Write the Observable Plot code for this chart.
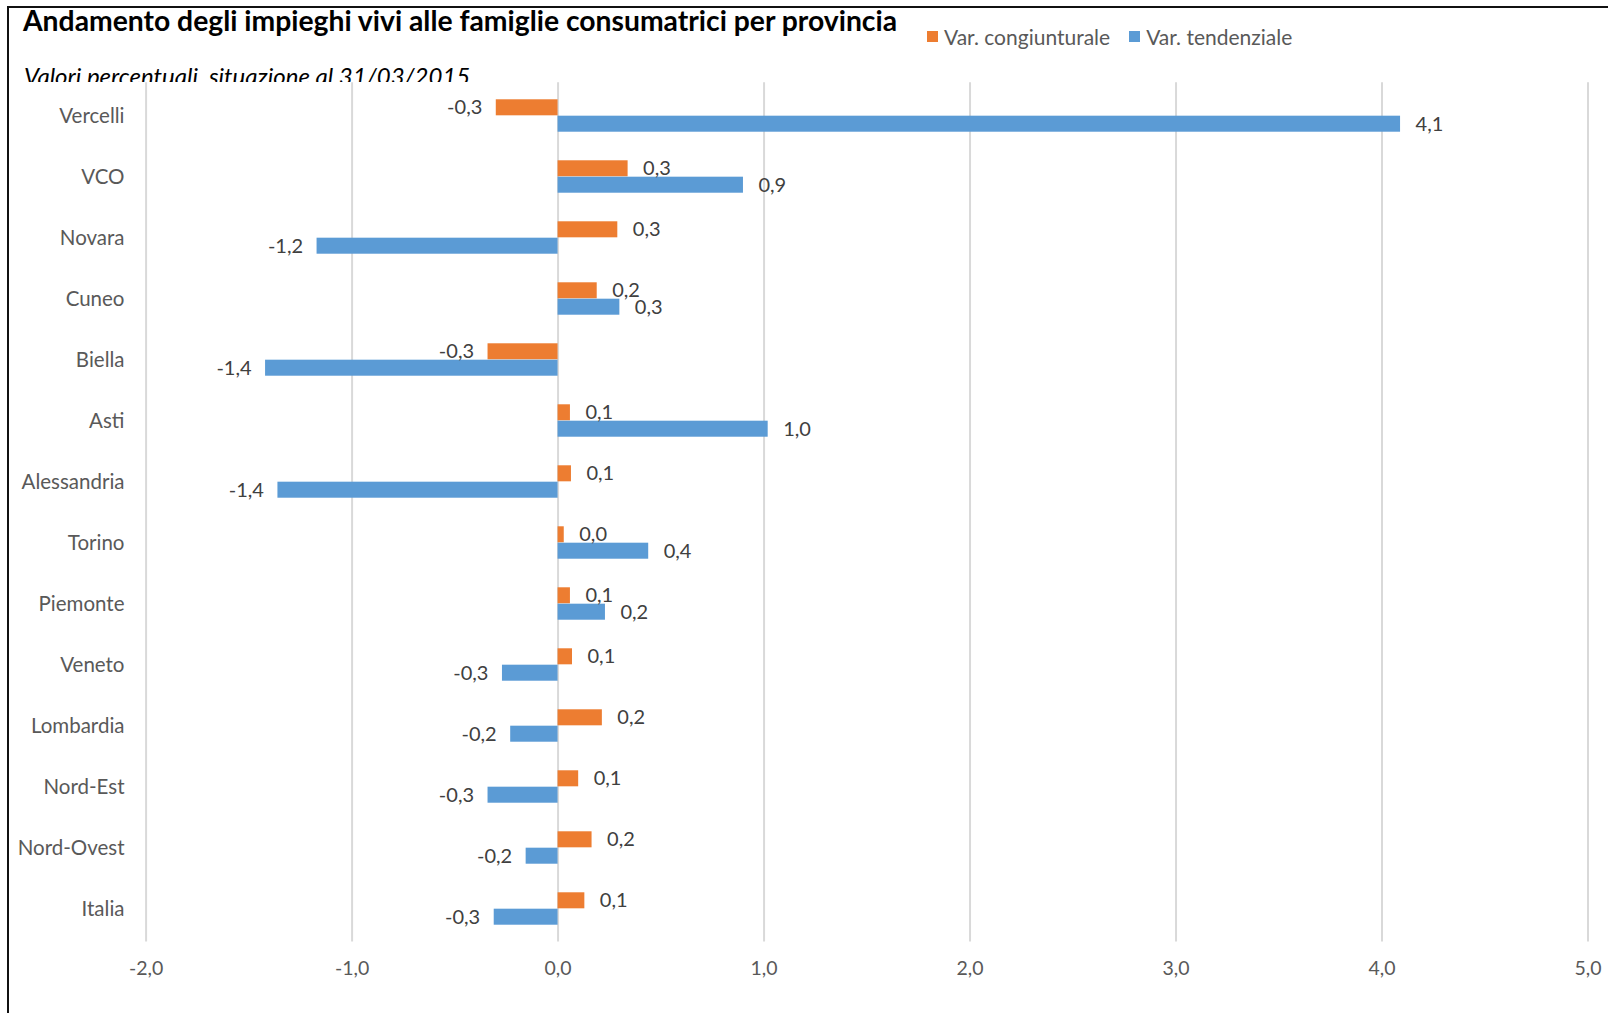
<!DOCTYPE html>
<html><head><meta charset="utf-8">
<script src="https://cdn.jsdelivr.net/npm/d3@7"></script>
<script src="https://cdn.jsdelivr.net/npm/@observablehq/plot@0.6"></script>
<style>
body{margin:0;background:#fff;font-family:Lato,sans-serif;}
#root{position:relative;width:1608px;height:1013px;overflow:hidden;background:#fff;}
#chart{position:absolute;left:0;top:60px;z-index:0;}
#frame{position:absolute;left:7px;top:6px;width:1700px;height:1100px;border-left:2.5px solid #111;border-top:2.5px solid #111;z-index:2;pointer-events:none;}
#title{position:absolute;left:23px;top:3px;font-weight:700;font-size:28.3px;color:#000;white-space:nowrap;z-index:2;}
#subtitle{position:absolute;left:24px;top:56px;height:26px;overflow:hidden;font-style:italic;font-size:24px;line-height:40px;color:#000;white-space:nowrap;z-index:1;}
#legend{position:absolute;left:927px;top:24px;display:flex;align-items:center;font-size:21px;color:#595959;z-index:2;}
#legend .item{display:flex;align-items:center;margin-right:19px;}
#legend .sw{width:11px;height:11px;margin-right:6px;}
</style></head>
<body>
<div id="root">
  <div id="chart"></div>
  <div id="frame"></div>
  <div id="title">Andamento degli impieghi vivi alle famiglie consumatrici per provincia</div>
  <div id="subtitle">Valori percentuali, situazione al 31/03/2015</div>
  <div id="legend"></div>
</div>
<script>
const categories = ["Vercelli","VCO","Novara","Cuneo","Biella","Asti","Alessandria","Torino","Piemonte","Veneto","Lombardia","Nord-Est","Nord-Ovest","Italia"];
const congiunturale = [-0.30, 0.34, 0.29, 0.19, -0.34, 0.06, 0.065, 0.03, 0.06, 0.07, 0.215, 0.10, 0.165, 0.13];
const tendenziale = [4.09, 0.90, -1.17, 0.30, -1.42, 1.02, -1.36, 0.44, 0.23, -0.27, -0.23, -0.34, -0.155, -0.31];
const series = ["Var. congiunturale", "Var. tendenziale"];
const colors = ["#ED7D31", "#5B9BD5"];
const xTicks = [-2, -1, 0, 1, 2, 3, 4, 5];

const fmt = v => v.toFixed(1).replace(".", ",");
const rows = [];
categories.forEach((c, i) => {
  rows.push({category: c, series: series[0], value: congiunturale[i]});
  rows.push({category: c, series: series[1], value: tendenziale[i]});
});
const S0 = rows.filter(d => d.series === series[0]);
const S1 = rows.filter(d => d.series === series[1]);

// legend
const lg = document.getElementById("legend");
series.forEach((s, i) => {
  const it = document.createElement("div"); it.className = "item";
  const sw = document.createElement("div"); sw.className = "sw"; sw.style.background = colors[i];
  const tx = document.createElement("span"); tx.textContent = s;
  it.appendChild(sw); it.appendChild(tx); lg.appendChild(it);
});

const H = 953;
const bandHalf = (941.6 - 82.3) / categories.length / 2;
const barH = 16.4;

function labels(data, dy) {
  return [
    Plot.text(data.filter(d => d.value >= 0), {x: "value", y: "category", text: d => fmt(d.value), dy, dx: 15, textAnchor: "start", fill: "#404040", fontSize: 20}),
    Plot.text(data.filter(d => d.value < 0), {x: "value", y: "category", text: d => fmt(d.value), dy, dx: -14, textAnchor: "end", fill: "#404040", fontSize: 20})
  ];
}

const chart = Plot.plot({
  width: 1608,
  height: H,
  marginLeft: 145.6,
  marginRight: 20.5,
  marginTop: 22.3,
  marginBottom: 71.4,
  style: {fontFamily: "Lato, sans-serif", fontSize: "20px", color: "#595959", background: "white"},
  x: {domain: [-2, 5]},
  y: {domain: categories, padding: 0},
  color: {domain: series, range: colors},
  marks: [
    Plot.ruleX(xTicks, {stroke: "#d9d9d9", strokeWidth: 2}),
    Plot.barX(S0, {x: "value", y: "category", fill: "series", insetTop: bandHalf - barH, insetBottom: bandHalf}),
    Plot.barX(S1, {x: "value", y: "category", fill: "series", insetTop: bandHalf, insetBottom: bandHalf - barH}),
    ...labels(S0, -barH / 2),
    ...labels(S1, barH / 2),
    Plot.axisX({ticks: xTicks, tickFormat: fmt, tickSize: 0, tickPadding: 19, fill: "#595959", fontSize: 19.5, label: null}),
    Plot.axisY({tickSize: 0, tickPadding: 21.6, fill: "#595959", fontSize: 20.5, label: null})
  ]
});
document.getElementById("chart").appendChild(chart);
</script>
</body></html>
